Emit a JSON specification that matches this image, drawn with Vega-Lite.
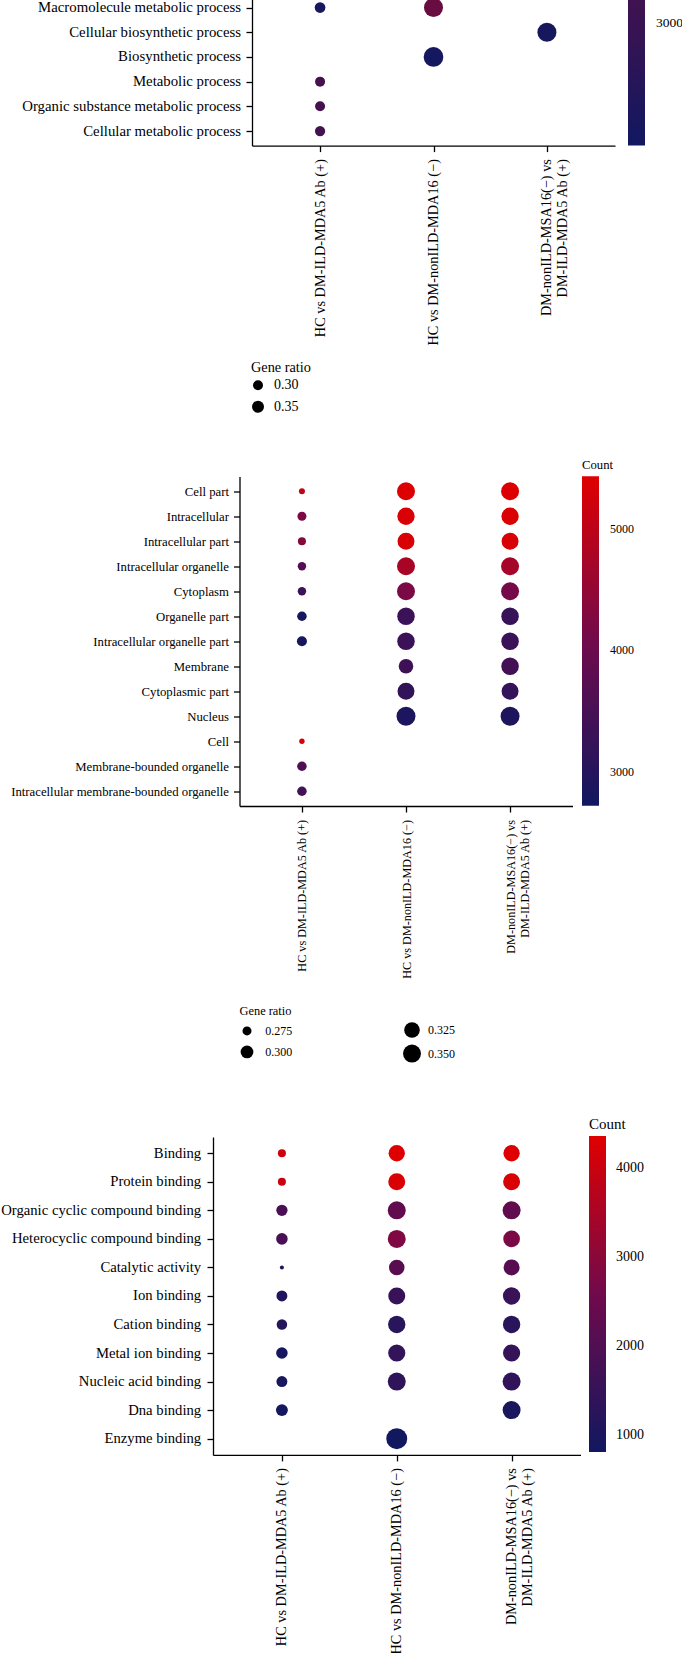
{
  "$schema": "https://vega.github.io/schema/vega-lite/v6.json",
  "background": "white",
  "padding": {"left": 0, "top": -7, "right": 0, "bottom": 0},
  "bounds": "flush",
  "spacing": 330.5,
  "config": {
    "font": "Liberation Serif",
    "view": {"stroke": null},
    "axis": {"grid": false, "domainColor": "#000", "domainWidth": 1.3, "tickColor": "#000", "tickWidth": 1.3, "tickSize": 6, "labelColor": "#000", "labelLimit": 400},
    "legend": {"titleColor": "#000", "labelColor": "#000", "titleFontWeight": "normal", "titleAlign": "left"}
  },
  "resolve": {"scale": {"x": "independent", "y": "independent", "color": "independent", "size": "independent"}, "legend": {"color": "independent", "size": "independent"}},
  "vconcat": [
    {
      "width": 402,
      "height": 152.6,
      "data": {"values": [
        {"term": "Macromolecule metabolic process", "group": "HC vs DM-ILD-MDA5 Ab (+)", "count": 2645, "ratio": 0.317},
        {"term": "Macromolecule metabolic process", "group": "HC vs DM-nonILD-MDA16 (−)", "count": 3510, "ratio": 0.597},
        {"term": "Cellular biosynthetic process", "group": "DM-nonILD-MSA16(−) vs DM-ILD-MDA5 Ab (+)", "count": 2625, "ratio": 0.597},
        {"term": "Biosynthetic process", "group": "HC vs DM-nonILD-MDA16 (−)", "count": 2600, "ratio": 0.627},
        {"term": "Metabolic process", "group": "HC vs DM-ILD-MDA5 Ab (+)", "count": 3150, "ratio": 0.300},
        {"term": "Organic substance metabolic process", "group": "HC vs DM-ILD-MDA5 Ab (+)", "count": 3130, "ratio": 0.300},
        {"term": "Cellular metabolic process", "group": "HC vs DM-ILD-MDA5 Ab (+)", "count": 3130, "ratio": 0.307}
      ]},
      "mark": {"type": "circle", "opacity": 1},
      "encoding": {
        "x": {"field": "group", "type": "nominal",
              "scale": {"type": "point", "domain": ["HC vs DM-ILD-MDA5 Ab (+)", "HC vs DM-nonILD-MDA16 (−)", "DM-nonILD-MSA16(−) vs DM-ILD-MDA5 Ab (+)"], "range": [39, 402], "padding": 0.6},
              "axis": {"title": null, "labelAngle": -90, "labelFontSize": 14.3, "labelPadding": 7, "labelLineHeight": 16, "labelExpr": "split(replace(datum.label, '(−) vs ', '(−) vs|'), '|')"}},
        "y": {"field": "term", "type": "nominal", "sort": null,
              "scale": {"type": "point", "padding": 0.59},
              "axis": {"title": null, "offset": -39, "labelFontSize": 14.8, "labelPadding": 5.5}},
        "size": {"field": "ratio", "type": "quantitative", "title": "Gene ratio",
                 "scale": {"domain": [0.30, 0.35], "range": [100, 144], "zero": false},
                 "legend": {"orient": "none", "legendX": 38, "legendY": 368, "direction": "vertical", "values": [0.30, 0.35], "format": ".2f",
                            "titleFontSize": 14.3, "labelFontSize": 14, "labelOffset": 9, "rowPadding": 4.5, "titlePadding": 3, "symbolType": "circle",
                            "encode": {"symbols": {"update": {"fill": {"value": "black"}, "stroke": {"value": "black"}, "strokeWidth": {"value": 0}, "opacity": {"value": 1}}}}}},
        "color": {"field": "count", "type": "quantitative",
                  "scale": {"domain": [2560, 3107], "range": ["#111860", "#43114f"], "interpolate": "rgb", "nice": false, "zero": false},
                  "legend": {"orient": "none", "legendX": 415, "legendY": 0, "title": null, "direction": "vertical", "gradientLength": 152.6, "gradientThickness": 17, "gradientStrokeWidth": 0,
                             "values": [3000], "format": "d", "labelFontSize": 13.5, "labelOffset": 11}}
      }
    },
    {
      "width": 359.5,
      "height": 329.5,
      "data": {"values": [
        {"term": "Cell part", "group": "HC vs DM-ILD-MDA5 Ab (+)", "count": 5050, "ratio": 0.261},
        {"term": "Cell part", "group": "HC vs DM-nonILD-MDA16 (−)", "count": 5400, "ratio": 0.350},
        {"term": "Cell part", "group": "DM-nonILD-MSA16(−) vs DM-ILD-MDA5 Ab (+)", "count": 5400, "ratio": 0.350},
        {"term": "Intracellular", "group": "HC vs DM-ILD-MDA5 Ab (+)", "count": 4250, "ratio": 0.275},
        {"term": "Intracellular", "group": "HC vs DM-nonILD-MDA16 (−)", "count": 5350, "ratio": 0.342},
        {"term": "Intracellular", "group": "DM-nonILD-MSA16(−) vs DM-ILD-MDA5 Ab (+)", "count": 5360, "ratio": 0.342},
        {"term": "Intracellular part", "group": "HC vs DM-ILD-MDA5 Ab (+)", "count": 4320, "ratio": 0.270},
        {"term": "Intracellular part", "group": "HC vs DM-nonILD-MDA16 (−)", "count": 5330, "ratio": 0.339},
        {"term": "Intracellular part", "group": "DM-nonILD-MSA16(−) vs DM-ILD-MDA5 Ab (+)", "count": 5340, "ratio": 0.339},
        {"term": "Intracellular organelle", "group": "HC vs DM-ILD-MDA5 Ab (+)", "count": 3700, "ratio": 0.272},
        {"term": "Intracellular organelle", "group": "HC vs DM-nonILD-MDA16 (−)", "count": 4760, "ratio": 0.350},
        {"term": "Intracellular organelle", "group": "DM-nonILD-MSA16(−) vs DM-ILD-MDA5 Ab (+)", "count": 4720, "ratio": 0.350},
        {"term": "Cytoplasm", "group": "HC vs DM-ILD-MDA5 Ab (+)", "count": 3350, "ratio": 0.272},
        {"term": "Cytoplasm", "group": "HC vs DM-nonILD-MDA16 (−)", "count": 4210, "ratio": 0.350},
        {"term": "Cytoplasm", "group": "DM-nonILD-MSA16(−) vs DM-ILD-MDA5 Ab (+)", "count": 4150, "ratio": 0.350},
        {"term": "Organelle part", "group": "HC vs DM-ILD-MDA5 Ab (+)", "count": 2780, "ratio": 0.278},
        {"term": "Organelle part", "group": "HC vs DM-nonILD-MDA16 (−)", "count": 3320, "ratio": 0.345},
        {"term": "Organelle part", "group": "DM-nonILD-MSA16(−) vs DM-ILD-MDA5 Ab (+)", "count": 3280, "ratio": 0.345},
        {"term": "Intracellular organelle part", "group": "HC vs DM-ILD-MDA5 Ab (+)", "count": 2800, "ratio": 0.281},
        {"term": "Intracellular organelle part", "group": "HC vs DM-nonILD-MDA16 (−)", "count": 3320, "ratio": 0.345},
        {"term": "Intracellular organelle part", "group": "DM-nonILD-MSA16(−) vs DM-ILD-MDA5 Ab (+)", "count": 3300, "ratio": 0.345},
        {"term": "Membrane", "group": "HC vs DM-nonILD-MDA16 (−)", "count": 3370, "ratio": 0.315},
        {"term": "Membrane", "group": "DM-nonILD-MSA16(−) vs DM-ILD-MDA5 Ab (+)", "count": 3450, "ratio": 0.345},
        {"term": "Cytoplasmic part", "group": "HC vs DM-nonILD-MDA16 (−)", "count": 3180, "ratio": 0.339},
        {"term": "Cytoplasmic part", "group": "DM-nonILD-MSA16(−) vs DM-ILD-MDA5 Ab (+)", "count": 3200, "ratio": 0.339},
        {"term": "Nucleus", "group": "HC vs DM-nonILD-MDA16 (−)", "count": 2880, "ratio": 0.361},
        {"term": "Nucleus", "group": "DM-nonILD-MSA16(−) vs DM-ILD-MDA5 Ab (+)", "count": 2900, "ratio": 0.361},
        {"term": "Cell", "group": "HC vs DM-ILD-MDA5 Ab (+)", "count": 5300, "ratio": 0.259},
        {"term": "Membrane-bounded organelle", "group": "HC vs DM-ILD-MDA5 Ab (+)", "count": 3620, "ratio": 0.278},
        {"term": "Intracellular membrane-bounded organelle", "group": "HC vs DM-ILD-MDA5 Ab (+)", "count": 3420, "ratio": 0.278}
      ]},
      "encoding": {
        "x": {"field": "group", "type": "nominal",
              "scale": {"type": "point", "domain": ["HC vs DM-ILD-MDA5 Ab (+)", "HC vs DM-nonILD-MDA16 (−)", "DM-nonILD-MSA16(−) vs DM-ILD-MDA5 Ab (+)"], "range": [26.5, 359.5], "padding": 0.6},
              "axis": {"title": null, "labelAngle": -90, "labelFontSize": 12.2, "labelPadding": 7.4, "labelLineHeight": 14, "labelExpr": "split(replace(datum.label, '(−) vs ', '(−) vs|'), '|')"}},
        "y": {"field": "term", "type": "nominal", "sort": null,
              "scale": {"type": "point", "padding": 0.59},
              "axis": {"title": null, "offset": -26.5, "labelFontSize": 12.75, "labelPadding": 5}},
        "color": {"field": "count", "type": "quantitative", "title": "Count",
                  "scale": {"domain": [2720, 5435], "range": ["#111860", "#700a4c", "#e00000"], "interpolate": "rgb", "nice": false, "zero": false},
                  "legend": {"orient": "none", "legendX": 369, "legendY": -18, "direction": "vertical", "gradientLength": 329.5, "gradientThickness": 17, "gradientStrokeWidth": 0,
                             "values": [3000, 4000, 5000], "format": "d", "titleFontSize": 12.7, "titlePadding": 5, "labelFontSize": 12, "labelOffset": 11}}
      },
      "layer": [
        {
          "mark": {"type": "circle", "opacity": 1},
          "encoding": {
            "size": {"field": "ratio", "type": "quantitative", "title": "Gene ratio",
                     "scale": {"domain": [0.275, 0.35], "range": [81, 324], "zero": false},
                     "legend": {"orient": "none", "legendX": 26.5, "legendY": 528, "direction": "vertical", "values": [0.275, 0.3], "format": ".3f",
                                "titleFontSize": 12.4, "labelFontSize": 12, "labelOffset": 10.8, "rowPadding": 3.5, "titlePadding": 8, "symbolType": "circle",
                                "encode": {"symbols": {"update": {"fill": {"value": "black"}, "stroke": {"value": "black"}, "strokeWidth": {"value": 0}, "opacity": {"value": 1}}}}}}
          }
        },
        {
          "mark": {"type": "circle", "opacity": 0},
          "encoding": {
            "size": {"field": "ratio", "type": "quantitative",
                     "scale": {"domain": [0.275, 0.35], "range": [81, 324], "zero": false},
                     "legend": {"orient": "none", "legendX": 190, "legendY": 545.5, "title": null, "direction": "vertical", "values": [0.325, 0.35], "format": ".3f",
                                "labelFontSize": 12, "labelOffset": 7, "rowPadding": 6.6, "symbolType": "circle", "symbolOpacity": 1, "symbolFillColor": "black",
                                "encode": {"symbols": {"update": {"fill": {"value": "black"}, "stroke": {"value": "black"}, "strokeWidth": {"value": 0}, "opacity": {"value": 1}, "fillOpacity": {"value": 1}, "strokeOpacity": {"value": 1}}}}}}
          }
        }
      ],
      "resolve": {"scale": {"size": "independent"}, "legend": {"size": "independent"}}
    },
    {
      "width": 367.5,
      "height": 317.9,
      "data": {"values": [
        {"term": "Binding", "group": "HC vs DM-ILD-MDA5 Ab (+)", "count": 4080, "ratio": 0.270},
        {"term": "Binding", "group": "HC vs DM-nonILD-MDA16 (−)", "count": 4330, "ratio": 0.332},
        {"term": "Binding", "group": "DM-nonILD-MSA16(−) vs DM-ILD-MDA5 Ab (+)", "count": 4330, "ratio": 0.332},
        {"term": "Protein binding", "group": "HC vs DM-ILD-MDA5 Ab (+)", "count": 4010, "ratio": 0.270},
        {"term": "Protein binding", "group": "HC vs DM-nonILD-MDA16 (−)", "count": 4260, "ratio": 0.339},
        {"term": "Protein binding", "group": "DM-nonILD-MSA16(−) vs DM-ILD-MDA5 Ab (+)", "count": 4220, "ratio": 0.339},
        {"term": "Organic cyclic compound binding", "group": "HC vs DM-ILD-MDA5 Ab (+)", "count": 1850, "ratio": 0.289},
        {"term": "Organic cyclic compound binding", "group": "HC vs DM-nonILD-MDA16 (−)", "count": 2300, "ratio": 0.350},
        {"term": "Organic cyclic compound binding", "group": "DM-nonILD-MSA16(−) vs DM-ILD-MDA5 Ab (+)", "count": 2300, "ratio": 0.350},
        {"term": "Heterocyclic compound binding", "group": "HC vs DM-ILD-MDA5 Ab (+)", "count": 1850, "ratio": 0.291},
        {"term": "Heterocyclic compound binding", "group": "HC vs DM-nonILD-MDA16 (−)", "count": 2830, "ratio": 0.350},
        {"term": "Heterocyclic compound binding", "group": "DM-nonILD-MSA16(−) vs DM-ILD-MDA5 Ab (+)", "count": 2750, "ratio": 0.336},
        {"term": "Catalytic activity", "group": "HC vs DM-ILD-MDA5 Ab (+)", "count": 985, "ratio": 0.255},
        {"term": "Catalytic activity", "group": "HC vs DM-nonILD-MDA16 (−)", "count": 2150, "ratio": 0.324},
        {"term": "Catalytic activity", "group": "DM-nonILD-MSA16(−) vs DM-ILD-MDA5 Ab (+)", "count": 2150, "ratio": 0.329},
        {"term": "Ion binding", "group": "HC vs DM-ILD-MDA5 Ab (+)", "count": 1090, "ratio": 0.287},
        {"term": "Ion binding", "group": "HC vs DM-nonILD-MDA16 (−)", "count": 1520, "ratio": 0.339},
        {"term": "Ion binding", "group": "DM-nonILD-MSA16(−) vs DM-ILD-MDA5 Ab (+)", "count": 1560, "ratio": 0.343},
        {"term": "Cation binding", "group": "HC vs DM-ILD-MDA5 Ab (+)", "count": 1160, "ratio": 0.284},
        {"term": "Cation binding", "group": "HC vs DM-nonILD-MDA16 (−)", "count": 1230, "ratio": 0.343},
        {"term": "Cation binding", "group": "DM-nonILD-MSA16(−) vs DM-ILD-MDA5 Ab (+)", "count": 1230, "ratio": 0.343},
        {"term": "Metal ion binding", "group": "HC vs DM-ILD-MDA5 Ab (+)", "count": 910, "ratio": 0.291},
        {"term": "Metal ion binding", "group": "HC vs DM-nonILD-MDA16 (−)", "count": 1445, "ratio": 0.341},
        {"term": "Metal ion binding", "group": "DM-nonILD-MSA16(−) vs DM-ILD-MDA5 Ab (+)", "count": 1470, "ratio": 0.341},
        {"term": "Nucleic acid binding", "group": "HC vs DM-ILD-MDA5 Ab (+)", "count": 950, "ratio": 0.287},
        {"term": "Nucleic acid binding", "group": "HC vs DM-nonILD-MDA16 (−)", "count": 1375, "ratio": 0.350},
        {"term": "Nucleic acid binding", "group": "DM-nonILD-MSA16(−) vs DM-ILD-MDA5 Ab (+)", "count": 1400, "ratio": 0.350},
        {"term": "Dna binding", "group": "HC vs DM-ILD-MDA5 Ab (+)", "count": 880, "ratio": 0.294},
        {"term": "Dna binding", "group": "DM-nonILD-MSA16(−) vs DM-ILD-MDA5 Ab (+)", "count": 950, "ratio": 0.350},
        {"term": "Enzyme binding", "group": "HC vs DM-nonILD-MDA16 (−)", "count": 830, "ratio": 0.386}
      ]},
      "mark": {"type": "circle", "opacity": 1},
      "encoding": {
        "x": {"field": "group", "type": "nominal",
              "scale": {"type": "point", "domain": ["HC vs DM-ILD-MDA5 Ab (+)", "HC vs DM-nonILD-MDA16 (−)", "DM-nonILD-MSA16(−) vs DM-ILD-MDA5 Ab (+)"], "padding": 0.6},
              "axis": {"title": null, "labelAngle": -90, "labelFontSize": 14.3, "labelPadding": 6.7, "labelLineHeight": 16, "labelExpr": "split(replace(datum.label, '(−) vs ', '(−) vs|'), '|')"}},
        "y": {"field": "term", "type": "nominal", "sort": null,
              "scale": {"type": "point", "padding": 0.57},
              "axis": {"title": null, "labelFontSize": 14.7, "labelPadding": 6.3}},
        "size": {"field": "ratio", "type": "quantitative", "title": "Gene ratio",
                 "scale": {"domain": [0.275, 0.35], "range": [81, 324], "zero": false},
                 "legend": null},
        "color": {"field": "count", "type": "quantitative", "title": "Count",
                  "scale": {"domain": [805, 4365], "range": ["#111860", "#700a4c", "#e00000"], "interpolate": "rgb", "nice": false, "zero": false},
                  "legend": {"orient": "none", "legendX": 376, "legendY": -20, "direction": "vertical", "gradientLength": 316, "gradientThickness": 17, "gradientStrokeWidth": 0,
                             "values": [1000, 2000, 3000, 4000], "format": "d", "titleFontSize": 15, "titlePadding": 4, "labelFontSize": 14, "labelOffset": 10}}
      }
    }
  ]
}
